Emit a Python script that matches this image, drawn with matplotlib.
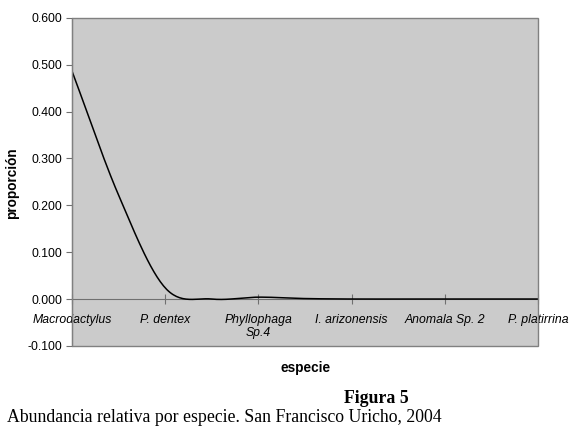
import numpy as np
import matplotlib.pyplot as plt
from matplotlib.patches import Rectangle

# =========================
# DATOS
# =========================

# only every other species name is printed on the axis of the original chart
especies = ["Macrodactylus", "", "P. dentex", "", "Phyllophaga\nSp.4", "",
            "I. arizonensis", "", "Anomala Sp. 2", "", "P. platirrina"]
proporcion = [0.487, 0.222, 0.024, 0.0, 0.004, 0.001, 0.0, 0.0, 0.0, 0.0, 0.0]
y_ticks = [-0.1, 0.0, 0.1, 0.2, 0.3, 0.4, 0.5, 0.6]


def suavizar(x, y, n=30):
    # Bezier smoothing like the spreadsheet "smoothed line" option
    x = np.asarray(x, float)
    y = np.asarray(y, float)
    # extend the ends linearly so the first/last segments keep their slope
    yy = np.concatenate([[2 * y[0] - y[1]], y, [2 * y[-1] - y[-2]]])
    xs, ys = [], []
    for i in range(len(x) - 1):
        t0 = (yy[i + 2] - yy[i]) / 2
        t1 = (yy[i + 3] - yy[i + 1]) / 2
        c1 = y[i] + t0 / 3
        c2 = y[i + 1] - t1 / 3
        t = np.linspace(0, 1, n)
        ys.append((1 - t) ** 3 * y[i] + 3 * (1 - t) ** 2 * t * c1
                  + 3 * (1 - t) * t ** 2 * c2 + t ** 3 * y[i + 1])
        xs.append(x[i] + t * (x[i + 1] - x[i]))
    return np.concatenate(xs), np.concatenate(ys)


# =========================
# GRAFICA
# =========================

plt.rcParams["font.family"] = ["Liberation Sans", "DejaVu Sans"]

fig = plt.figure(figsize=(5.75, 4.34), dpi=100)
ax = fig.add_axes([0.125, 0.203, 0.811, 0.756])
ax.set_facecolor("#cbcbcb")

pos = np.arange(len(especies))
xs, ys = suavizar(pos, proporcion)
ax.plot(xs, ys, color="black", lw=1.1, zorder=3)

for s in ["top", "right"]:
    ax.spines[s].set_visible(False)
ax.spines["bottom"].set_position(("data", 0))
ax.spines["bottom"].set_color("#707070")
ax.spines["left"].set_color("#606060")

ax.set_xlim(pos[0], pos[-1])
ax.set_ylim(-0.1, 0.6)
ax.set_yticks(y_ticks)
ax.set_yticklabels([f"{v:.3f}" for v in y_ticks], fontsize=8.8)

ax.set_xticks(pos[::2])
ax.set_xticklabels(especies[::2], fontsize=8.8, style="italic")

ax.tick_params(axis="x", direction="inout", length=7, color="#707070", pad=7)
ax.tick_params(axis="y", direction="out", length=4, color="#707070", pad=3)

# marco del area de trazado
ax.add_patch(Rectangle((0, 0), 1, 1, transform=ax.transAxes, fill=False,
                       edgecolor="#808080", lw=1.0, clip_on=False, zorder=4))

fig.text(0.021, 0.578, "proporción", rotation=90, fontsize=9.8,
         fontweight="bold", ha="center", va="center")
fig.text(0.531, 0.152, "especie", fontsize=9.8, fontweight="bold",
         ha="center", va="center")

fig.text(0.654, 0.081, "Figura 5", fontsize=12.8, fontweight="bold",
         family="Liberation Serif", ha="center", va="center")
fig.text(0.012, 0.037, "Abundancia relativa por especie. San Francisco Uricho, 2004",
         fontsize=12.8, family="Liberation Serif", ha="left", va="center")

plt.savefig("out.png", dpi=100)
plt.close()
